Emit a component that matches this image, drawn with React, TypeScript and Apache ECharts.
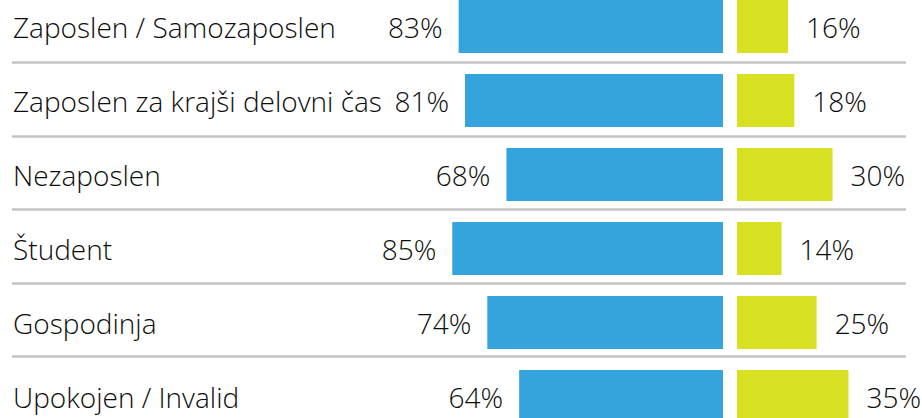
import React, { useEffect, useRef } from "react";
import * as echarts from "echarts";

const categories = [
  "Zaposlen / Samozaposlen",
  "Zaposlen za krajši delovni čas",
  "Nezaposlen",
  "Študent",
  "Gospodinja",
  "Upokojen / Invalid",
];
const blueValues = [83, 81, 68, 85, 74, 64];
const yellowValues = [16, 18, 30, 14, 25, 35];

const FONT = "'Open Sans', sans-serif";
const TEXT_COLOR = "#0d0d0d";
const OFFSET = 11;

export default function App() {
  const ref = useRef<HTMLDivElement>(null);
  useEffect(() => {
    if (!ref.current) return;
    const chart = echarts.init(ref.current, null, { renderer: "svg" });
    chart.setOption({
      animation: false,
      backgroundColor: "#ffffff",
      grid: [
        { left: 404.5, right: 199, top: OFFSET - 10.5, height: 444, outerBoundsMode: "none" },
        { left: 737, right: 25.75, top: OFFSET - 10.5, height: 444, outerBoundsMode: "none" },
        { left: 12, right: 16, top: OFFSET - 11.3, height: 441.6, outerBoundsMode: "none" },
      ],
      xAxis: [
        { gridIndex: 0, type: "value", min: 0, max: 100, inverse: true, show: false },
        { gridIndex: 1, type: "value", min: 0, max: 50, show: false },
        { gridIndex: 2, type: "value", min: 0, max: 1, show: false },
      ],
      yAxis: [
        {
          gridIndex: 0,
          type: "category",
          data: categories,
          inverse: true,
          axisLine: { show: false },
          axisTick: { show: false },
          splitLine: { show: false },
          axisLabel: {
            align: "left",
            margin: 391.5,
            fontFamily: FONT,
            fontWeight: 300,
            fontSize: 28,
            color: TEXT_COLOR,
          },
        },
        {
          gridIndex: 1,
          type: "category",
          data: categories,
          inverse: true,
          show: false,
        },
        {
          gridIndex: 2,
          type: "category",
          data: categories,
          inverse: true,
          axisLine: { show: false },
          axisTick: { show: false },
          axisLabel: { show: false },
          splitLine: {
            show: true,
            interval: 0,
            lineStyle: { color: "#c4c4c4", width: 2.5 },
          },
        },
      ],
      series: [
        {
          type: "bar",
          xAxisIndex: 0,
          yAxisIndex: 0,
          data: blueValues,
          barWidth: 53,
          itemStyle: { color: "#35a4dc" },
          label: {
            show: true,
            position: "left",
            distance: 16,
            formatter: "{c}%",
            fontFamily: FONT,
            fontWeight: 300,
            fontSize: 28,
            color: TEXT_COLOR,
          },
        },
        {
          type: "bar",
          xAxisIndex: 1,
          yAxisIndex: 1,
          data: yellowValues,
          barWidth: 53,
          itemStyle: { color: "#d8e022" },
          label: {
            show: true,
            position: "right",
            distance: 18,
            formatter: "{c}%",
            fontFamily: FONT,
            fontWeight: 300,
            fontSize: 28,
            color: TEXT_COLOR,
          },
        },
      ],
    });
    return () => chart.dispose();
  }, []);
  return (
    <div style={{ position: "absolute", left: 0, top: 0, width: 922, height: 418, overflow: "hidden" }}>
      <div
        ref={ref}
        style={{ position: "absolute", left: 0, top: -OFFSET, width: 922, height: 460 }}
      />
    </div>
  );
}
